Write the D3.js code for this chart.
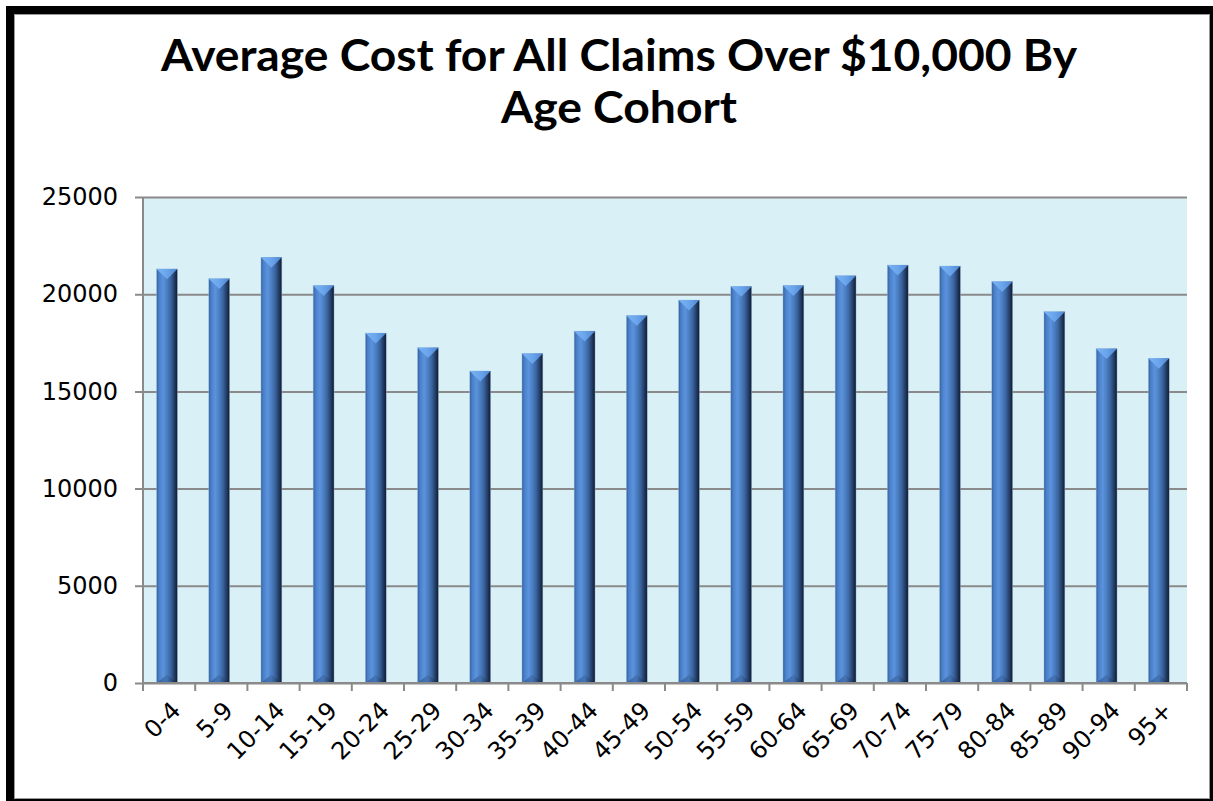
<!DOCTYPE html>
<html>
<head>
<meta charset="utf-8">
<script src="https://cdn.jsdelivr.net/npm/d3@7"></script>
<style>
  html, body { margin: 0; padding: 0; background: #fff; }
  svg { display: block; }
</style>
</head>
<body>
<div id="chart"></div>
<script>
// Average cost per claim over $10,000, by age cohort
var ageCohorts = ["0-4", "5-9", "10-14", "15-19", "20-24", "25-29", "30-34", "35-39",
                  "40-44", "45-49", "50-54", "55-59", "60-64", "65-69", "70-74", "75-79",
                  "80-84", "85-89", "90-94", "95+"];
var avgCost = [21300, 20800, 21900, 20450, 18000, 17250, 16050, 16950,
               18100, 18900, 19700, 20400, 20450, 20950, 21500, 21450,
               20650, 19100, 17200, 16700];
var yTicks = [0, 5000, 10000, 15000, 20000, 25000];
var titleLines = ["Average Cost for All Claims Over $10,000 By", "Age Cohort"];
var titleWidths = [916, 236];

(function () {
  var W = 1213, H = 801;
  var plot = { left: 143, right: 1187, top: 197, bottom: 683 };
  var labelFont = "'DejaVu Sans', Verdana, sans-serif";

  var svg = d3.select("#chart").append("svg")
    .attr("width", W)
    .attr("height", H);

  // ── gradients for the bevelled columns ─────────────────────────────────────
  var defs = svg.append("defs");

  function hGrad(id, stops) {
    var g = defs.append("linearGradient").attr("id", id)
      .attr("x1", "0").attr("x2", "1").attr("y1", "0").attr("y2", "0");
    stops.forEach(function (s) {
      g.append("stop").attr("offset", s[0]).attr("stop-color", s[1]);
    });
  }
  hGrad("barBody", [
    [0, "#345f9c"], [0.12, "#4a80c9"], [0.32, "#5b93dd"], [0.5, "#4b7ec2"],
    [0.68, "#3a649f"], [0.86, "#223b63"], [1, "#0f1a2d"]
  ]);
  hGrad("barTop", [
    [0, "#7bb4f4"], [0.5, "#6aa5ec"], [1, "#4f86d0"]
  ]);
  hGrad("barFoot", [
    [0, "#2c5188"], [0.5, "#3f6eae"], [1, "#0d1728"]
  ]);

  // ── scales ──────────────────────────────────────────────────────────────────
  var x = d3.scaleBand()
    .domain(ageCohorts)
    .range([plot.left, plot.right])
    .padding(0);

  var y = d3.scaleLinear()
    .domain([0, 25000])
    .range([plot.bottom, plot.top]);

  var step = x.step();
  var barW = step * 0.4;
  var barOff = step * 0.26;

  // ── plot background ─────────────────────────────────────────────────────────
  svg.append("rect")
    .attr("x", plot.left).attr("y", plot.top)
    .attr("width", plot.right - plot.left)
    .attr("height", plot.bottom - plot.top)
    .attr("fill", "#d9f1f6");

  // ── gridlines + y axis ──────────────────────────────────────────────────────
  var yAxis = d3.axisLeft(y)
    .tickValues(yTicks)
    .tickSize(-(plot.right - plot.left))
    .tickPadding(25)
    .tickFormat(d3.format("d"));

  var gy = svg.append("g")
    .attr("transform", "translate(" + plot.left + ",0)")
    .call(yAxis);
  gy.select(".domain").remove();
  gy.selectAll(".tick line")
    .attr("x1", -8)
    .attr("stroke", "#8a8a8a")
    .attr("stroke-width", 2);
  gy.selectAll(".tick text")
    .attr("fill", "#000")
    .style("font-family", labelFont)
    .style("font-size", "24px");

  svg.append("line")
    .attr("x1", plot.left).attr("x2", plot.left)
    .attr("y1", plot.top).attr("y2", plot.bottom)
    .attr("stroke", "#8a8a8a").attr("stroke-width", 2);

  // ── columns ─────────────────────────────────────────────────────────────────
  var bars = svg.append("g").selectAll("g.bar")
    .data(avgCost)
    .join("g")
    .attr("class", "bar");

  bars.append("rect")
    .attr("x", function (d, i) { return x(ageCohorts[i]) + barOff; })
    .attr("y", function (d) { return y(d); })
    .attr("width", barW)
    .attr("height", function (d) { return y(0) - y(d); })
    .attr("fill", "url(#barBody)")
    .attr("stroke", "#9fc0e4")
    .attr("stroke-width", 0.6)
    .attr("stroke-opacity", 0.7);

  // top bevel (downward V)
  bars.append("polygon")
    .attr("points", function (d, i) {
      var x0 = x(ageCohorts[i]) + barOff, x1 = x0 + barW, yt = y(d);
      return [[x0, yt], [x1, yt], [(x0 + x1) / 2, yt + barW * 0.5]].join(" ");
    })
    .attr("fill", "url(#barTop)");

  // foot bevel (upward V)
  bars.append("polygon")
    .attr("points", function (d, i) {
      var x0 = x(ageCohorts[i]) + barOff, x1 = x0 + barW, yb = y(0);
      return [[x0, yb], [(x0 + x1) / 2, yb - barW * 0.4], [x1, yb]].join(" ");
    })
    .attr("fill", "url(#barFoot)")
    .attr("opacity", 0.7);

  // ── x axis ──────────────────────────────────────────────────────────────────
  svg.append("line")
    .attr("x1", plot.left).attr("x2", plot.right)
    .attr("y1", plot.bottom).attr("y2", plot.bottom)
    .attr("stroke", "#8a8a8a").attr("stroke-width", 2);

  var bounds = ageCohorts.map(function (c) { return x(c); }).concat([plot.right]);
  svg.append("g").selectAll("line")
    .data(bounds)
    .join("line")
    .attr("x1", function (d) { return d; })
    .attr("x2", function (d) { return d; })
    .attr("y1", plot.bottom)
    .attr("y2", plot.bottom + 8)
    .attr("stroke", "#8a8a8a").attr("stroke-width", 2);

  svg.append("g").selectAll("text")
    .data(ageCohorts)
    .join("text")
    .attr("transform", function (d) {
      var cx = x(d) + step / 2 + 1, cy = plot.bottom + 17;
      return "translate(" + cx + "," + cy + ") rotate(-45)";
    })
    .attr("text-anchor", "end")
    .attr("dy", "0.7em")
    .style("font-family", labelFont)
    .style("font-size", "24px")
    .attr("fill", "#000")
    .text(function (d) { return d; });

  // ── title ───────────────────────────────────────────────────────────────────
  svg.append("g").selectAll("text")
    .data(titleLines)
    .join("text")
    .attr("x", 619)
    .attr("y", function (d, i) { return 71 + i * 52; })
    .attr("text-anchor", "middle")
    .attr("textLength", function (d, i) { return titleWidths[i]; })
    .attr("lengthAdjust", "spacingAndGlyphs")
    .style("font-family", "Lato, 'Open Sans', sans-serif")
    .style("font-weight", "700")
    .style("font-size", "43px")
    .attr("fill", "#000")
    .text(function (d) { return d; });

  // ── outer frame ─────────────────────────────────────────────────────────────
  svg.append("rect")
    .attr("x", 14.5).attr("y", 14.5)
    .attr("width", 1195).attr("height", 784)
    .attr("fill", "none")
    .attr("stroke", "#9a9a9a").attr("stroke-width", 1);
  svg.append("rect")
    .attr("x", 10).attr("y", 10)
    .attr("width", 1204).attr("height", 793)
    .attr("fill", "none")
    .attr("stroke", "#000").attr("stroke-width", 8);
})();
</script>
</body>
</html>
